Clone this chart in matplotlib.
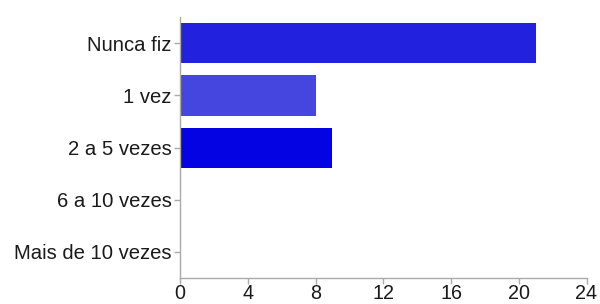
import matplotlib
matplotlib.use("Agg")
import matplotlib.pyplot as plt

categories = ["Nunca fiz", "1 vez", "2 a 5 vezes", "6 a 10 vezes", "Mais de 10 vezes"]
values = [21, 8, 9, 0, 0]
colors = ["#2222de", "#4545e0", "#0303e3", "#0303e3", "#0303e3"]
xticks = [0, 4, 8, 12, 16, 20, 24]

plt.rcParams['font.family'] = ['Liberation Sans', 'DejaVu Sans']
fig = plt.figure(figsize=(6, 3.04), dpi=100)
ax = fig.add_axes([0.30, 0.0855, 0.6775, 0.858])
ypos = list(range(len(categories)))
ax.barh(ypos, values, height=0.77, color=colors, edgecolor='none')
ax.set_ylim(len(categories) - 0.5, -0.5)
ax.set_xlim(0, 24)
ax.set_yticks(ypos)
ax.set_yticklabels(categories, fontsize=14.6, color='#1a1a1a')
ax.set_xticks(xticks)
ax.set_xticklabels([str(t) for t in xticks], fontsize=14.2, color='#1a1a1a')
for s in ['top', 'right']:
    ax.spines[s].set_visible(False)
for s in ['left', 'bottom']:
    ax.spines[s].set_color('#aaaaaa')
    ax.spines[s].set_linewidth(1)
ax.tick_params(axis='both', colors='#aaaaaa', length=4, width=1, labelcolor='#1a1a1a')
ax.tick_params(axis='y', pad=2)
ax.tick_params(axis='x', pad=0.5)
fig.savefig("out.png", dpi=100, facecolor='white')
